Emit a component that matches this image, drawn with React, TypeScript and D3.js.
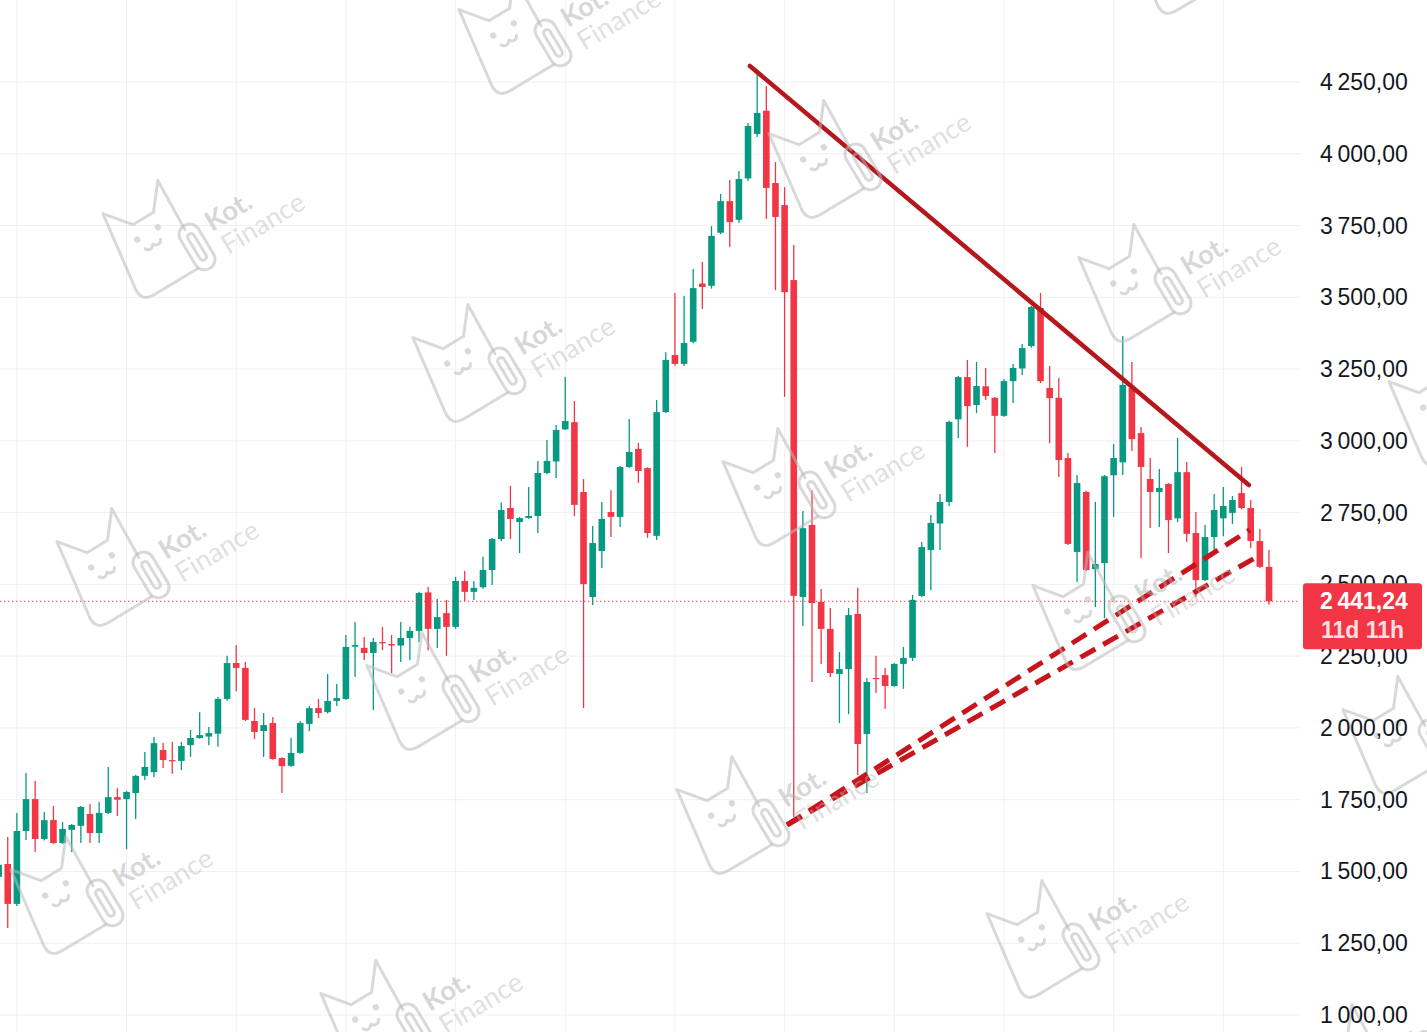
import React, { useEffect } from 'react';
import * as d3 from 'd3';

// ---- data ----
const opens = [
  1481, 1526, 1387, 1641, 1752, 1613, 1679, 1599, 1645, 1659,
  1700, 1634, 1704, 1759, 1752, 1773, 1833, 1846, 1923, 1888,
  1885, 1940, 1965, 1970, 1980, 2101, 2226, 2209, 2024, 1989,
  2017, 1895, 1868, 1913, 2014, 2069, 2055, 2094, 2101, 2283,
  2279, 2261, 2299, 2292, 2287, 2313, 2338, 2472, 2345, 2400,
  2352, 2512, 2474, 2490, 2550, 2658, 2766, 2717, 2731, 2738,
  2888, 2928, 3040, 3065, 2822, 2456, 2616, 2752, 2735, 2909,
  2972, 2905, 2669, 3100, 3299, 3268, 3345, 3548, 3540, 3725,
  3835, 3770, 3914, 4069, 4150, 3898, 3821, 3560, 2456, 2707,
  2439, 2345, 2188, 2205, 2397, 1979, 2174, 2184, 2146, 2223,
  2244, 2460, 2620, 2712, 2787, 3075, 3222, 3125, 3190, 3150,
  3087, 3208, 3252, 3330, 3463, 3184, 3150, 2940, 2613, 2822,
  2553, 2574, 2880, 2925, 3184, 3027, 2867, 2822, 2850, 2730,
  2891, 2679, 2515, 2665, 2730, 2749, 2818, 2766, 2651, 2561,
];
const highs = [
  1540, 1620, 1704, 1843, 1815, 1707, 1728, 1672, 1665, 1728,
  1735, 1742, 1864, 1790, 1780, 1836, 1916, 1968, 1948, 1951,
  1951, 1993, 2055, 2003, 2108, 2251, 2289, 2230, 2069, 2052,
  2038, 1898, 1965, 2024, 2076, 2101, 2188, 2153, 2324, 2369,
  2317, 2313, 2352, 2324, 2369, 2352, 2474, 2491, 2449, 2446,
  2526, 2547, 2512, 2596, 2662, 2784, 2843, 2735, 2839, 2930,
  3003, 3055, 3222, 3139, 2867, 2703, 2787, 2828, 2912, 3076,
  2993, 2908, 3142, 3309, 3515, 3505, 3599, 3623, 3748, 3860,
  3909, 3940, 4107, 4281, 4236, 3971, 3884, 3682, 2756, 2828,
  2484, 2418, 2264, 2418, 2488, 2174, 2251, 2209, 2226, 2282,
  2463, 2648, 2742, 2815, 3070, 3226, 3282, 3275, 3254, 3153,
  3215, 3268, 3337, 3470, 3515, 3261, 3219, 2958, 2881, 2826,
  2787, 2881, 2989, 3365, 3275, 3048, 2940, 2902, 2853, 3010,
  2926, 2752, 2707, 2815, 2839, 2808, 2909, 2794, 2693, 2620,
];
const lows = [
  1470, 1303, 1380, 1610, 1568, 1608, 1596, 1596, 1568, 1599,
  1599, 1599, 1700, 1693, 1578, 1683, 1819, 1829, 1860, 1840,
  1853, 1899, 1962, 1940, 1934, 2095, 2128, 2024, 1961, 1899,
  1889, 1773, 1865, 1910, 1989, 2034, 2050, 2076, 2097, 2177,
  2237, 2062, 2271, 2191, 2230, 2237, 2299, 2271, 2278, 2251,
  2345, 2442, 2446, 2485, 2498, 2650, 2658, 2609, 2729, 2679,
  2884, 2871, 3038, 2738, 2069, 2428, 2557, 2665, 2700, 2905,
  2853, 2662, 2655, 3097, 3262, 3261, 3340, 3459, 3530, 3720,
  3675, 3760, 3905, 4058, 3773, 3525, 3153, 1690, 2355, 2160,
  2223, 2177, 2017, 2048, 1836, 1773, 2122, 2066, 2143, 2136,
  2233, 2456, 2480, 2620, 2773, 3010, 2979, 3097, 3142, 2958,
  3084, 3132, 3229, 3325, 3201, 2992, 2874, 2637, 2508, 2547,
  2421, 2383, 2735, 2881, 2965, 2592, 2696, 2700, 2609, 2717,
  2648, 2456, 2512, 2620, 2668, 2710, 2762, 2627, 2557, 2429,
];
const closes = [
  1523, 1387, 1641, 1752, 1613, 1679, 1599, 1648, 1662, 1725,
  1634, 1704, 1759, 1750, 1777, 1833, 1864, 1947, 1888, 1885,
  1937, 1965, 1975, 1982, 2101, 2226, 2209, 2028, 1986, 2010,
  1892, 1867, 1913, 2017, 2069, 2052, 2094, 2104, 2282, 2289,
  2261, 2299, 2295, 2287, 2313, 2338, 2470, 2345, 2386, 2352,
  2512, 2474, 2488, 2550, 2658, 2759, 2728, 2731, 2738, 2888,
  2930, 3038, 3069, 2777, 2501, 2644, 2728, 2735, 2909, 2961,
  2895, 2679, 3100, 3282, 3268, 3341, 3532, 3536, 3714, 3835,
  3762, 3912, 4097, 4142, 3881, 3780, 3518, 2460, 2696, 2435,
  2345, 2191, 2205, 2393, 1944, 2160, 2170, 2146, 2223, 2244,
  2446, 2630, 2714, 2787, 3066, 3222, 3121, 3191, 3156, 3087,
  3208, 3254, 3323, 3466, 3208, 3149, 2933, 2641, 2853, 2550,
  2571, 2877, 2940, 3195, 3006, 2909, 2822, 2836, 2724, 2891,
  2676, 2515, 2665, 2759, 2773, 2794, 2766, 2651, 2561, 2441.24,
];

const yTicks = [1000, 1250, 1500, 1750, 2000, 2250, 2500, 2750, 3000, 3250, 3500, 3750, 4000, 4250];
const lastPrice = 2441.24;
const countdownText = '11d 11h';
const gridStartIndex = 2;
const gridEveryBars = 12;

// trendlines: [bar index, price]
const resistanceLine: [number, number][] = [[82.2, 4306], [136.8, 2846]];
const supportUpper: [number, number][] = [[86.26, 1662], [136.9, 2690]];
const supportLower: [number, number][] = [[86.26, 1662], [138.0, 2602]];

// ---- layout ----
const W = 1427;
const H = 1032;
const plotRight = 1300;
const UP = '#089981';
const DOWN = '#f23645';
const GRID = '#eef0f3';

const locale = d3.formatLocale({ decimal: ',', thousands: '\u2009', grouping: [3], currency: ['', ''] });
const fmt = locale.format(',.2f');

const x = d3.scaleLinear().domain([0, opens.length - 1]).range([-1.4, 1269]);
const y = d3.scaleLinear().domain([1000, 4250]).range([1015, 82]);
const bodyW = 6.6;

const line = d3.line<[number, number]>().x((d) => x(d[0])).y((d) => y(d[1]));

function Watermark({ tx, ty }: { tx: number; ty: number }) {
  const stroke = 'rgba(185,185,185,0.55)';
  return (
    <g transform={`translate(${tx},${ty}) rotate(-31)`} fill="none" stroke={stroke} strokeWidth={3} strokeLinejoin="round" strokeLinecap="round">
      <path d="M-84,-72 L-64,-47 L-40,-47 L-20,-72 L-22,-16 M-31,24 L-82,24 Q-96,24 -95,10 L-84,-72" />
      <rect x={-31} y={-20} width={21} height={50} rx={10.5} />
      <rect x={-24} y={-10} width={7} height={30} rx={3.5} />
      <circle cx={-68} cy={-32} r={1.6} />
      <circle cx={-44} cy={-32} r={1.6} />
      <path d="M-66,-20 Q-62,-14 -57,-20 Q-52,-14 -48,-20" />
      <text x={0} y={0} stroke="none" fill="rgba(175,175,175,0.5)" fontFamily="Lato, 'Open Sans', sans-serif" fontWeight={700} fontSize={27}>Kot.</text>
      <text x={2} y={28} stroke="none" fill="rgba(185,185,185,0.45)" fontFamily="Lato, 'Open Sans', sans-serif" fontWeight={400} fontSize={27}>Finance</text>
    </g>
  );
}

export default function App() {
  useEffect(() => {
    document.body.style.margin = '0';
    document.body.style.background = '#ffffff';
  }, []);

  const n = opens.length;
  const bars = d3.range(n);
  const vGrid = d3.range(gridStartIndex, n + 20, gridEveryBars);

  const marks: { tx: number; ty: number }[] = [];
  for (let i = -4; i <= 7; i++) {
    for (let j = -3; j <= 5; j++) {
      const tx = 212 + 310 * i - 46 * j;
      const ty = 232 + 124 * i + 328 * j;
      if (tx > -250 && tx < W + 250 && ty > -150 && ty < H + 150) marks.push({ tx, ty });
    }
  }

  const py = y(lastPrice);

  return (
    <svg width={W} height={H} style={{ position: 'fixed', left: 0, top: 0, background: '#fff' }} fontFamily="'Liberation Sans', Arial, sans-serif">
      <rect x={0} y={0} width={W} height={H} fill="#ffffff" />
      {/* grid */}
      <g>
        {yTicks.map((t) => (
          <line key={`h${t}`} x1={0} x2={plotRight} y1={y(t)} y2={y(t)} stroke={GRID} strokeWidth={1} />
        ))}
        {vGrid.filter((i) => x(i) < plotRight).map((i) => (
          <line key={`v${i}`} x1={x(i)} x2={x(i)} y1={0} y2={H} stroke={GRID} strokeWidth={1} />
        ))}
      </g>

      {/* candles */}
      <g>
        {bars.map((i) => {
          const o = opens[i];
          const c = closes[i];
          const col = c >= o ? UP : DOWN;
          const top = y(Math.max(o, c));
          const bot = y(Math.min(o, c));
          return (
            <g key={i}>
              <line x1={x(i)} x2={x(i)} y1={y(highs[i])} y2={y(lows[i])} stroke={col} strokeWidth={1.3} />
              <rect x={x(i) - bodyW / 2} y={top} width={bodyW} height={Math.max(1.2, bot - top)} fill={col} />
            </g>
          );
        })}
      </g>

      {/* trendlines */}
      <path d={line(resistanceLine) || ''} stroke="#b5171c" strokeWidth={4.5} fill="none" strokeLinecap="round" />
      <path d={line(supportUpper) || ''} stroke="#c8141c" strokeWidth={5} fill="none" strokeDasharray="17 9" />
      <path d={line(supportLower) || ''} stroke="#c8141c" strokeWidth={5} fill="none" strokeDasharray="17 9" />

      {/* last price line */}
      <line x1={0} x2={plotRight} y1={py} y2={py} stroke={DOWN} strokeWidth={1.2} strokeDasharray="1.3 2.7" />

      {/* watermarks */}
      <g>
        {marks.map((m, k) => (
          <Watermark key={k} tx={m.tx} ty={m.ty} />
        ))}
      </g>

      {/* right price scale */}
      <g>
        {yTicks.map((t) => (
          <text key={`t${t}`} x={1320} y={y(t)} dominantBaseline="central" fontSize={23} fill="#131722">
            {fmt(t)}
          </text>
        ))}
      </g>

      {/* last price label */}
      <g>
        <rect x={1303} y={py - 18} width={119} height={66} rx={3} fill={DOWN} />
        <text x={1320} y={py} dominantBaseline="central" fontSize={23} fontWeight={700} fill="#ffffff">
          {fmt(lastPrice)}
        </text>
        <text x={1321} y={py + 29} dominantBaseline="central" fontSize={23} fontWeight={700} fill="#ffffff" fillOpacity={0.85}>
          {countdownText}
        </text>
      </g>
    </svg>
  );
}
